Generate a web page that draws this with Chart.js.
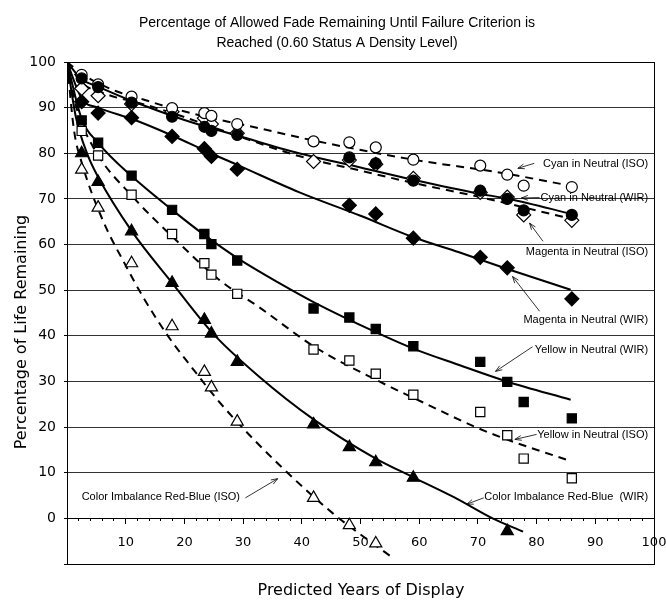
<!DOCTYPE html>
<html>
<head>
<meta charset="utf-8">
<script src="https://cdn.jsdelivr.net/npm/chart.js@4.4.1/dist/chart.umd.min.js"></script>
<style>
    html, body { margin: 0; padding: 0; background: #fff; }
</style>
</head>
<body>
<canvas id="myChart" width="666" height="600"></canvas>
<script>
// exposure columns (predicted years)
const years = [2.5, 5.3, 11.0, 17.9, 23.4, 24.6, 29.0, 42.0, 48.1, 52.6, 59.0, 70.4, 75.0, 77.8, 86.0];

// measured points, one per column (null = no point)
const cyan_iso = [97.2, 95.1, 92.4, 89.9, 88.8, 88.2, 86.4, 82.6, 82.4, 81.3, 78.6, 77.3, 75.3, 72.9, 72.6];
const cyan_wir = [96.4, 94.5, 91.1, 88.0, 85.8, 84.9, 84.0, null, 79.1, 77.8, 74.0, 71.8, 70.0, 67.5, 66.5];
const magenta_iso = [94.2, 92.6, 90.8, 89.1, 87.7, 86.4, 84.4, 78.2, 78.5, 77.6, 74.5, 71.4, 70.4, 66.5, 65.3];
const magenta_wir = [91.3, 88.8, 87.8, 83.7, 81.0, 79.3, 76.5, null, 68.6, 66.7, 61.4, 57.2, 54.9, null, 48.1];
const yellow_wir = [87.2, 82.3, 75.1, 67.6, 62.3, 60.1, 56.5, 46.0, 44.0, 41.5, 37.7, 34.3, 29.9, 25.5, 21.9];
const yellow_iso = [84.9, 79.5, 70.9, 62.3, 55.9, 53.4, 49.2, 37.0, 34.6, 31.7, 27.1, 23.3, 18.2, 13.1, 8.8];
const rb_wir = [80.0, 73.7, 62.9, 51.6, 43.5, 40.5, 34.3, 20.6, 15.6, 12.3, 8.9, null, -2.8, null, null];
const rb_iso = [76.4, 68.1, 55.9, 42.1, 32.1, 28.7, 21.2, 4.5, -1.5, -5.5, null, null, null, null, null];

// fitted curves
const cyan_iso_fit_x = [0, 3, 8.4, 13, 17, 25, 31.6, 42, 59, 73.6, 84.5];
const cyan_iso_fit_y = [100, 97, 93.6, 91.8, 90.2, 87.6, 85.8, 82.8, 78.6, 75.8, 73.2];
const cyan_wir_fit_x = [0, 2.5, 5.3, 11, 20, 30, 39.5, 50, 59, 70, 75.3, 86.3];
const cyan_wir_fit_y = [100, 96.2, 94.6, 91.5, 87.3, 83.5, 80, 76.9, 74.2, 71.2, 70, 66.6];
const magenta_iso_fit_x = [0, 2.5, 6.6, 14, 19.6, 30, 39.5, 50, 59, 70, 86];
const magenta_iso_fit_y = [100, 95.5, 93.0, 90.4, 88.1, 83.4, 79.4, 76.2, 73.5, 70.5, 65.6];
const magenta_wir_fit_x = [0, 2.6, 5.3, 11.1, 17.9, 24.5, 29.3, 39.5, 50, 59, 66.8, 74.9, 85.8];
const magenta_wir_fit_y = [100, 91.8, 90.0, 87.5, 83.9, 80.0, 77.3, 71.5, 66.3, 61.6, 58.3, 54.7, 50.1];
const yellow_wir_fit_x = [0, 2.5, 5.3, 11, 17.9, 23.5, 29.3, 36.1, 42, 52.6, 59, 66.8, 74.9, 85.8];
const yellow_wir_fit_y = [100, 87.5, 82.3, 75, 67.6, 62, 56.8, 51.6, 47.4, 40.8, 37.2, 33.6, 30, 26];
const yellow_iso_fit_x = [0, 1.5, 4.4, 11.7, 17.9, 25.9, 32.7, 42.4, 53.2, 60.5, 69.6, 74.9, 85];
const yellow_iso_fit_y = [100, 90.5, 81.5, 69.8, 61.8, 52.3, 46.3, 37.4, 30, 25.5, 20, 17.3, 12.9];
const rb_wir_fit_x = [0, 1.5, 3.5, 5.3, 11, 17.9, 24.8, 32.7, 42, 52.6, 59, 66, 72.5, 77.7];
const rb_wir_fit_y = [100, 88, 79.7, 74.8, 63, 51.6, 40.6, 31.1, 21.7, 13.1, 9.0, 4.6, 0, -2.9];
const rb_iso_fit_x = [0, 1.2, 2.5, 6, 10, 13.1, 17.4, 21.3, 25.3, 29, 36.1, 45.2, 55];
const rb_iso_fit_y = [100, 85, 78, 65.6, 55.4, 48.2, 39.6, 33, 26.5, 21.1, 11.8, 1.2, -8.2];

const y_ticks = [0, 10, 20, 30, 40, 50, 60, 70, 80, 90, 100];
const x_ticks = [10, 20, 30, 40, 50, 60, 70, 80, 90, 100];

const title_lines = ['Percentage of Allowed Fade Remaining Until Failure Criterion is', 'Reached (0.60 Status A Density Level)'];
const x_title = 'Predicted Years of Display';
const y_title = 'Percentage of Life Remaining';

// callout labels: text anchor and arrow, in data units
const notes = [
    { text: 'Cyan in Neutral (ISO)', x: 99, y: 77.7, align: 'right', arrow: [79.6, 77.8, 76.8, 76.7] },
    { text: 'Cyan in Neutral (WIR)', x: 99, y: 70.2, align: 'right', arrow: [80.5, 70.3, 77.4, 70.2] },
    { text: 'Magenta in Neutral (ISO)', x: 99, y: 58.3, align: 'right', arrow: [81.1, 60.7, 78.8, 64.7] },
    { text: 'Magenta in Neutral (WIR)', x: 99, y: 43.5, align: 'right', arrow: [80.5, 45.4, 75.9, 53.0] },
    { text: 'Yellow in Neutral (WIR)', x: 99, y: 36.8, align: 'right', arrow: [79.3, 37.6, 73.0, 32.2] },
    { text: 'Yellow in Neutral (ISO)', x: 99, y: 18.2, align: 'right', arrow: [80.0, 18.4, 76.3, 17.3] },
    { text: 'Color Imbalance Red-Blue  (WIR)', x: 99, y: 4.7, align: 'right', arrow: [71.0, 4.5, 68.1, 3.1] },
    { text: 'Color Imbalance Red-Blue (ISO)', x: 2.5, y: 4.7, align: 'left', arrow: [30.4, 4.5, 35.9, 8.7] }
];

function points(vals) {
    let out = [];
    vals.forEach((v, i) => {
        if (v !== null) out.push({ x: years[i], y: v });
    });
    return out;
}

function curve(xs, ys) {
    return xs.map((x, i) => ({ x: x, y: ys[i] }));
}

function marker(label, vals, style, filled, radius, order) {
    return {
        label: label,
        data: points(vals),
        showLine: false,
        pointStyle: style,
        pointRadius: radius,
        pointBackgroundColor: filled ? '#000' : '#fff',
        pointBorderColor: '#000',
        pointBorderWidth: 1.2,
        order: order
    };
}

function fit_line(xs, ys, dashed) {
    return {
        data: curve(xs, ys),
        showLine: true,
        pointRadius: 0,
        borderColor: '#000',
        borderWidth: 2,
        borderDash: dashed ? [8, 6] : [],
        cubicInterpolationMode: 'monotone',
        order: 20
    };
}

const frame_plugin = {
    id: 'frame',
    beforeDatasetsDraw(chart) {
        const a = chart.chartArea;
        const ctx = chart.ctx;
        ctx.save();
        ctx.strokeStyle = '#000';
        ctx.lineWidth = 1;
        ctx.strokeRect(Math.round(a.left) + 0.5, Math.round(a.top) + 0.5, Math.round(a.right - a.left), Math.round(a.bottom - a.top));
        ctx.restore();
    }
};

function draw_arrow(ctx, x1, y1, x2, y2) {
    const ang = Math.atan2(y2 - y1, x2 - x1);
    const len = 7;
    ctx.beginPath();
    ctx.moveTo(x1, y1);
    ctx.lineTo(x2, y2);
    ctx.moveTo(x2 - len * Math.cos(ang - 0.35), y2 - len * Math.sin(ang - 0.35));
    ctx.lineTo(x2, y2);
    ctx.lineTo(x2 - len * Math.cos(ang + 0.35), y2 - len * Math.sin(ang + 0.35));
    ctx.stroke();
}

const text_plugin = {
    id: 'texts',
    afterDraw(chart) {
        const ctx = chart.ctx;
        const xs = chart.scales.x;
        const ys = chart.scales.y;
        ctx.save();
        ctx.fillStyle = '#000';
        ctx.strokeStyle = '#000';

        // title
        ctx.font = '14px "Liberation Sans", Arial, sans-serif';
        ctx.textAlign = 'center';
        ctx.textBaseline = 'alphabetic';
        ctx.fillText(title_lines[0], 337, 26.5);
        ctx.fillText(title_lines[1], 337, 46.5);

        // axis titles
        ctx.font = '16px "DejaVu Sans", sans-serif';
        ctx.fillText(x_title, 361, 595);
        ctx.save();
        ctx.translate(22, 332);
        ctx.rotate(-Math.PI / 2);
        ctx.textBaseline = 'middle';
        ctx.fillText(y_title, 0, 0);
        ctx.restore();

        // callouts
        ctx.font = '11px "Liberation Sans", Arial, sans-serif';
        ctx.textBaseline = 'middle';
        ctx.lineWidth = 0.8;
        notes.forEach(n => {
            ctx.textAlign = n.align;
            ctx.fillText(n.text, xs.getPixelForValue(n.x), ys.getPixelForValue(n.y));
            const a = n.arrow;
            draw_arrow(ctx, xs.getPixelForValue(a[0]), ys.getPixelForValue(a[1]), xs.getPixelForValue(a[2]), ys.getPixelForValue(a[3]));
        });
        ctx.restore();
    }
};

function no_side_padding(scale) {
    scale.paddingLeft = 0;
    scale.paddingRight = 0;
}

function render_chart() {
    const ctx = document.getElementById('myChart');
    const tick_font = { family: 'DejaVu Sans', size: 13 };
    new Chart(ctx, {
        type: 'scatter',
        data: {
            datasets: [
                marker('Cyan in Neutral (WIR)', cyan_wir, 'circle', true, 5.5, 1),
                marker('Cyan in Neutral (ISO)', cyan_iso, 'circle', false, 5.5, 2),
                marker('Magenta in Neutral (ISO)', magenta_iso, 'rectRot', false, 7, 3),
                marker('Magenta in Neutral (WIR)', magenta_wir, 'rectRot', true, 7, 4),
                marker('Yellow in Neutral (WIR)', yellow_wir, 'rect', true, 6.5, 5),
                marker('Yellow in Neutral (ISO)', yellow_iso, 'rect', false, 6.5, 6),
                marker('Color Imbalance Red-Blue (WIR)', rb_wir, 'triangle', true, 7, 7),
                marker('Color Imbalance Red-Blue (ISO)', rb_iso, 'triangle', false, 7, 8),
                fit_line(cyan_iso_fit_x, cyan_iso_fit_y, true),
                fit_line(cyan_wir_fit_x, cyan_wir_fit_y, false),
                fit_line(magenta_iso_fit_x, magenta_iso_fit_y, true),
                fit_line(magenta_wir_fit_x, magenta_wir_fit_y, false),
                fit_line(yellow_wir_fit_x, yellow_wir_fit_y, false),
                fit_line(yellow_iso_fit_x, yellow_iso_fit_y, true),
                fit_line(rb_wir_fit_x, rb_wir_fit_y, false),
                fit_line(rb_iso_fit_x, rb_iso_fit_y, true)
            ]
        },
        options: {
            responsive: false,
            animation: false,
            devicePixelRatio: 1,
            layout: { padding: { top: 62, right: 12, bottom: 36, left: 0 }, autoPadding: false },
            plugins: {
                legend: { display: false },
                tooltip: { enabled: false }
            },
            scales: {
                x: {
                    type: 'linear',
                    min: 0,
                    max: 100,
                    position: { y: 0 },
                    afterBuildTicks: scale => { scale.ticks = x_ticks.map(v => ({ value: v })); },
                    afterFit: no_side_padding,
                    ticks: { font: tick_font, color: '#000', padding: 11, maxRotation: 0 },
                    grid: { drawOnChartArea: false, drawTicks: true, tickLength: 5, tickColor: '#000' },
                    border: { display: true, color: '#000', width: 1 }
                },
                x_minor: {
                    type: 'linear',
                    axis: 'x',
                    min: 0,
                    max: 100,
                    position: { y: 0 },
                    afterFit: no_side_padding,
                    ticks: { display: false, stepSize: 2 },
                    grid: { drawOnChartArea: false, drawTicks: true, tickLength: 3, tickColor: '#000' },
                    border: { display: false }
                },
                y: {
                    type: 'linear',
                    min: -10,
                    max: 100,
                    afterBuildTicks: scale => { scale.ticks = [-10].concat(y_ticks).map(v => ({ value: v })); },
                    afterFit: scale => { scale.width = 67; },
                    ticks: {
                        font: { family: 'DejaVu Sans', size: 14 },
                        color: '#000',
                        padding: 8,
                        callback: v => (v < 0 ? '' : v)
                    },
                    grid: { color: '#333', lineWidth: 1, tickLength: 3, tickColor: '#000' },
                    border: { display: true, color: '#000', width: 1 }
                }
            }
        },
        plugins: [frame_plugin, text_plugin]
    });
}

render_chart();
</script>
</body>
</html>
